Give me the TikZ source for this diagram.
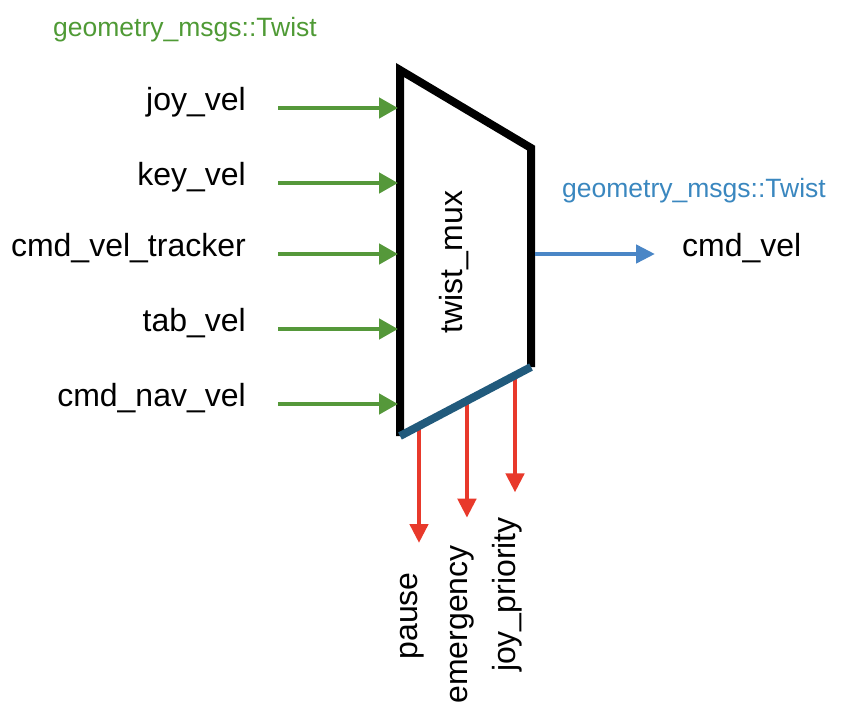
\documentclass[tikz,border=0pt]{standalone}
\usepackage{fontspec}
\setmainfont{Liberation Sans}
\usetikzlibrary{arrows.meta,calc}
\definecolor{MuxGreen}{HTML}{55983A}
\definecolor{MuxBlue}{HTML}{4A86C6}
\definecolor{MuxTeal}{HTML}{215A7C}
\definecolor{MuxRed}{HTML}{E8392B}
\definecolor{TitleGreen}{HTML}{4F9A35}
\definecolor{TitleBlue}{HTML}{3A87BF}

\begin{document}
\begin{tikzpicture}[x=1pt,y=-1pt,
    topic/.style={inner sep=0pt,font=\fontsize{32}{38}\selectfont,
      text height=0.75em,text depth=0.25em},
    msgtype/.style={inner sep=0pt,anchor=base west,
      font=\fontsize{26.5}{31}\selectfont},
    feed/.style={MuxGreen,line width=4.5pt,-{Triangle[length=19pt,width=20pt]}},
    outflow/.style={MuxBlue,line width=4.5pt,-{Triangle[length=19pt,width=18pt]}},
    ctl/.style={MuxRed,line width=4.5pt,-{Triangle[length=19pt,width=18pt]}}]

        \useasboundingbox (0,0) rectangle (864,725);

        % corners of the mux
        \coordinate (tl) at (400,70);
        \coordinate (tr) at (531,148);
        \coordinate (br) at (531,367);
        \coordinate (bl) at (400,436);

        % control topics
        \foreach \name/\txt/\t/\lx/\ly in
          {pause/pause/0.145/415/572,
           emg/emergency/0.511/465/545,
           jpr/joy\_priority/0.878/513/517} {
          \coordinate (\name src) at ($(bl)!\t!(br)$);
          \draw[ctl] (\name src) -- ++(0,117);
          \node[topic,rotate=90,anchor=east] (\name) at (\lx,\ly) {\txt};
        }

        \draw[black,line width=8pt,line join=miter]
          (bl) -- (tl) -- (tr) -- (br);
        \draw[MuxTeal,line width=8pt] (bl) -- (br);

        \node[topic,rotate=90] (mux) at (460,262) {twist\_mux};

        % input topics
        \node[msgtype,text=TitleGreen] (intype) at (53,37)
          {geometry\_msgs::Twist};

        \foreach \name/\txt/\y in
          {joy/joy\_vel/108, key/key\_vel/183, trk/cmd\_vel\_tracker/254,
           tab/tab\_vel/329, nav/cmd\_nav\_vel/404} {
          \node[topic,anchor=east] (\name) at (246,\y) {\txt};
          \draw[feed] ([xshift=32pt]\name.east) -- ([xshift=-2pt]\name.east -| tl);
        }

        % output topic
        \node[msgtype,text=TitleBlue] (outtype) at (562,197)
          {geometry\_msgs::Twist};
        \node[topic,anchor=west] (cmdvel) at (682,254) {cmd\_vel};
        \draw[outflow] ([xshift=4pt]cmdvel.west -| br) -- ([xshift=-27pt]cmdvel.west);

      \end{tikzpicture}
\end{document}
